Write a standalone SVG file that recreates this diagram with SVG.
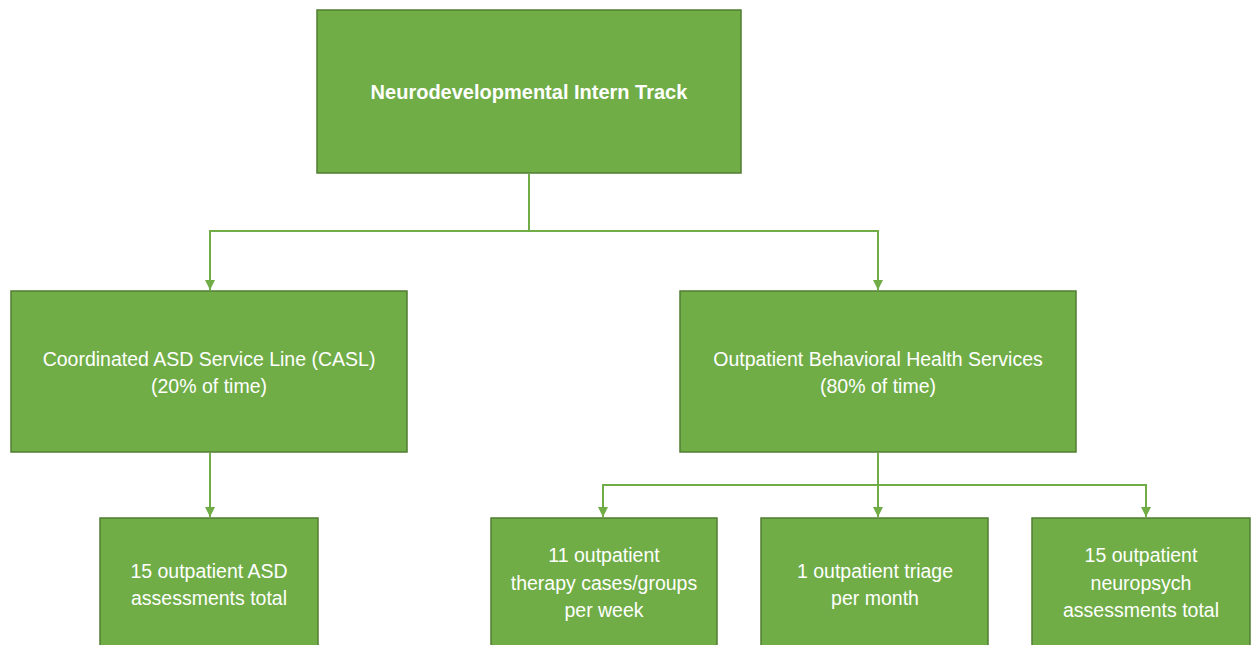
<svg xmlns="http://www.w3.org/2000/svg" width="1252" height="645" viewBox="0 0 1252 645">
<style>
.box{fill:#70AD47;stroke:#507E32;stroke-width:1.5}
.t{fill:#fff;font-family:"Liberation Sans",Arial,sans-serif;font-size:19.5px;text-anchor:middle}
.b{font-weight:bold;font-size:20px}
.c{fill:none;stroke:#70AD47;stroke-width:2}
</style>
<defs>
<marker id="ah" viewBox="0 0 10 10" refX="10" refY="5" markerWidth="5" markerHeight="5" orient="auto" markerUnits="strokeWidth">
<path d="M0,0 L10,5 L0,10 Z" fill="#70AD47"/>
</marker>
</defs>
<rect width="1252" height="645" fill="#fff"/>
<g id="connectors">
<path class="c" d="M529,174 V231 H210 V290" marker-end="url(#ah)"/>
<path class="c" d="M529,231 H878 V290" marker-end="url(#ah)"/>
<path class="c" d="M210,453 V517" marker-end="url(#ah)"/>
<path class="c" d="M878,453 V485 H603 V517" marker-end="url(#ah)"/>
<path class="c" d="M878,485 V517" marker-end="url(#ah)"/>
<path class="c" d="M878,485 H1146 V517" marker-end="url(#ah)"/>
</g>
<g id="n-root">
<rect class="box" x="317" y="10" width="424" height="163"/>
<text class="t b" x="529" y="99">Neurodevelopmental Intern Track</text>
</g>
<g id="n-casl">
<rect class="box" x="11" y="291" width="396" height="161"/>
<text class="t" x="209" y="366">Coordinated ASD Service Line (CASL)</text>
<text class="t" x="209" y="393">(20% of time)</text>
</g>
<g id="n-obhs">
<rect class="box" x="680" y="291" width="396" height="161"/>
<text class="t" x="878" y="366">Outpatient Behavioral Health Services</text>
<text class="t" x="878" y="393">(80% of time)</text>
</g>
<g id="n-asd">
<rect class="box" x="100" y="518" width="218" height="140"/>
<text class="t" x="209" y="578">15 outpatient ASD</text>
<text class="t" x="209" y="605">assessments total</text>
</g>
<g id="n-therapy">
<rect class="box" x="491" y="518" width="226" height="140"/>
<text class="t" x="604" y="562">11 outpatient</text>
<text class="t" x="604" y="590">therapy cases/groups</text>
<text class="t" x="604" y="617">per week</text>
</g>
<g id="n-triage">
<rect class="box" x="761" y="518" width="227" height="140"/>
<text class="t" x="875" y="578">1 outpatient triage</text>
<text class="t" x="875" y="605">per month</text>
</g>
<g id="n-neuro">
<rect class="box" x="1032" y="518" width="218" height="140"/>
<text class="t" x="1141" y="562">15 outpatient</text>
<text class="t" x="1141" y="590">neuropsych</text>
<text class="t" x="1141" y="617">assessments total</text>
</g>
</svg>
